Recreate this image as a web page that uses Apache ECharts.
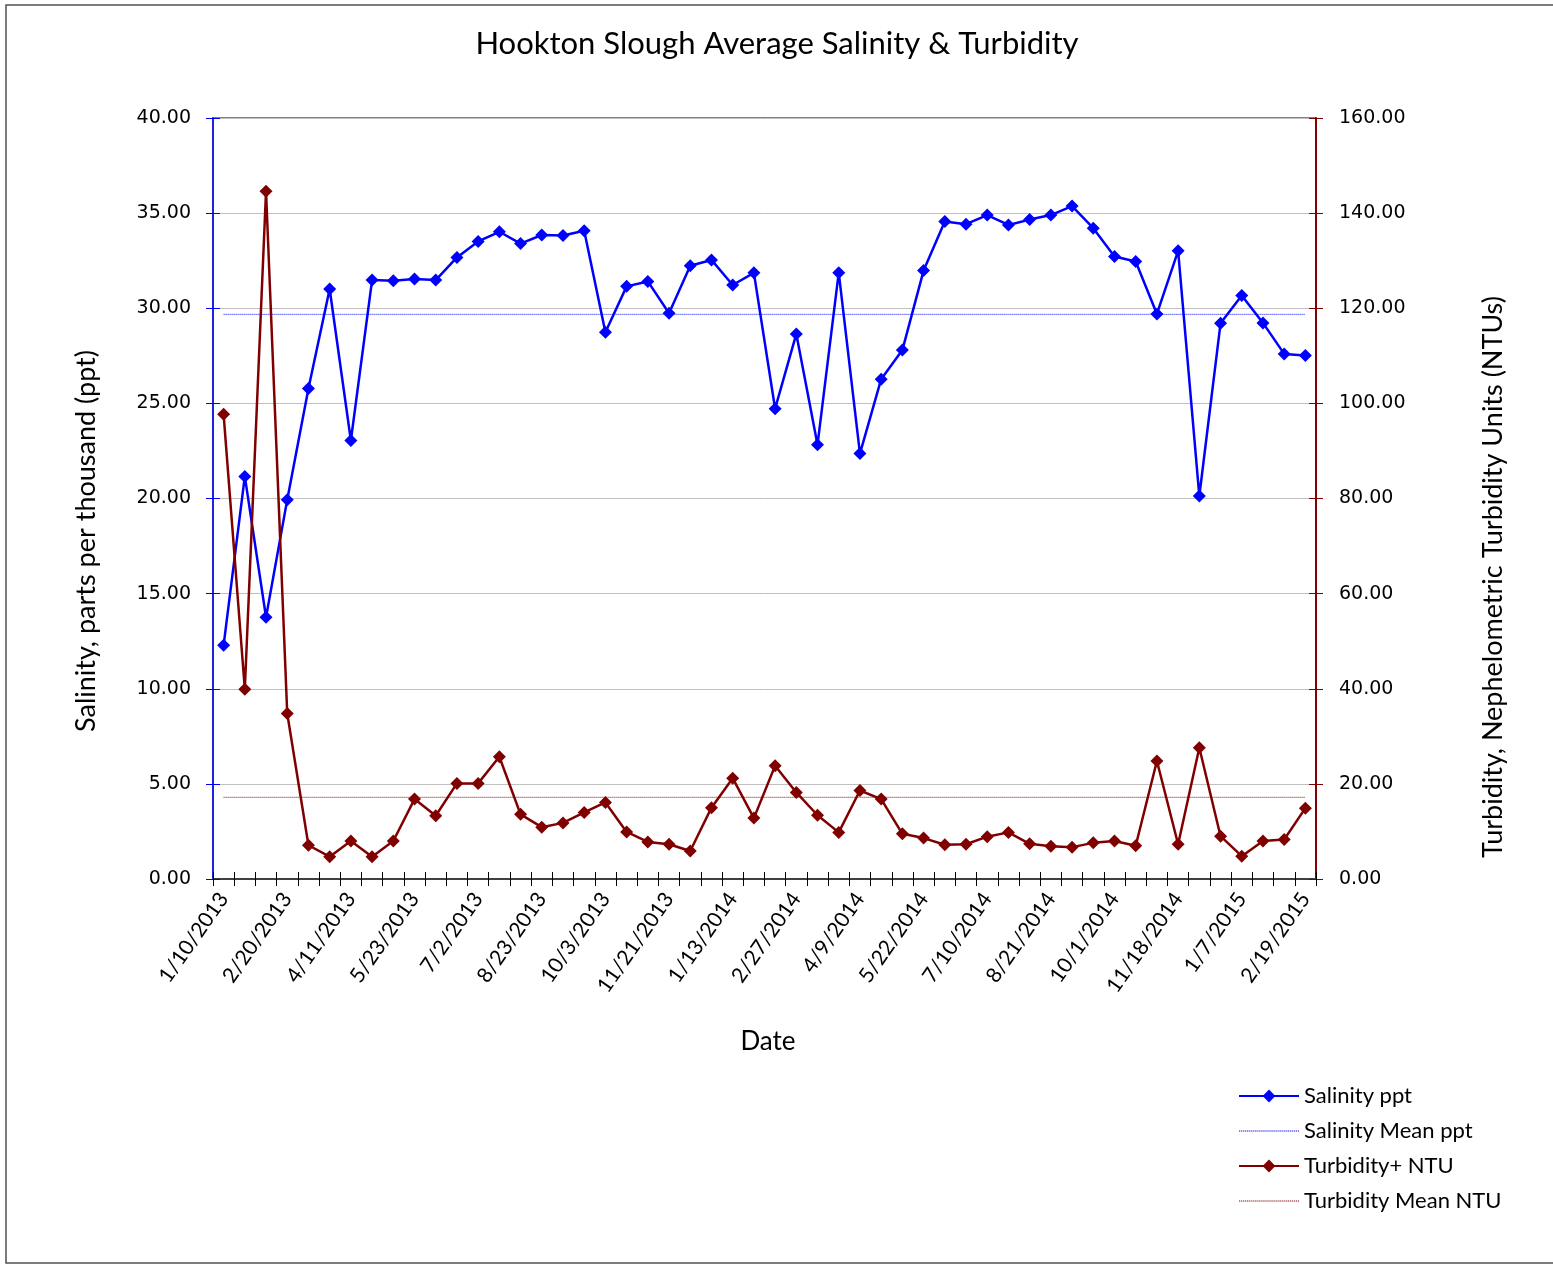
<!DOCTYPE html>
<html>
<head>
<meta charset="utf-8">
<script src="https://cdn.jsdelivr.net/npm/echarts@6/dist/echarts.min.js"></script>
<style>
html,body{margin:0;padding:0;background:#fff;}
#chart{width:1553px;height:1267px;}
</style>
</head>
<body>
<div id="chart"></div>
<script>
// ---- Data ----
const dates = [
  '1/10/2013','1/24/2013','2/7/2013','2/20/2013','3/7/2013','3/21/2013',
  '4/11/2013','4/25/2013','5/9/2013','5/23/2013','6/6/2013','6/20/2013',
  '7/2/2013','7/18/2013','8/8/2013','8/23/2013','9/5/2013','9/19/2013',
  '10/3/2013','10/24/2013','11/7/2013','11/21/2013','12/5/2013','12/19/2013',
  '1/13/2014','1/30/2014','2/13/2014','2/27/2014','3/13/2014','3/27/2014',
  '4/9/2014','4/24/2014','5/8/2014','5/22/2014','6/5/2014','6/19/2014',
  '7/10/2014','7/24/2014','8/7/2014','8/21/2014','9/4/2014','9/18/2014',
  '10/1/2014','10/16/2014','10/30/2014','11/18/2014','12/4/2014','12/18/2014',
  '1/7/2015','1/22/2015','2/5/2015','2/19/2015'
];
const salinity = [
  12.28, 21.16, 13.76, 19.94, 25.78, 31.01,
  23.05, 31.48, 31.44, 31.54, 31.48, 32.67,
  33.51, 34.02, 33.40, 33.85, 33.82, 34.07,
  28.74, 31.15, 31.41, 29.74, 32.23, 32.54,
  31.22, 31.86, 24.72, 28.65, 22.83, 31.87,
  22.36, 26.27, 27.80, 31.98, 34.56, 34.42,
  34.90, 34.38, 34.66, 34.90, 35.37, 34.21,
  32.72, 32.46, 29.70, 33.02, 20.13, 29.21,
  30.67, 29.23, 27.60, 27.52
];
const turbidity = [
  97.7, 39.9, 144.6, 34.8, 7.1, 4.7,
  8.0, 4.7, 8.0, 16.8, 13.3, 20.1,
  20.1, 25.7, 13.6, 10.9, 11.8, 14.0,
  16.1, 9.9, 7.8, 7.3, 5.9, 15.0,
  21.2, 12.8, 23.8, 18.2, 13.4, 9.8,
  18.6, 16.8, 9.5, 8.6, 7.2, 7.3,
  8.9, 9.8, 7.4, 6.9, 6.7, 7.6,
  8.0, 7.0, 24.8, 7.3, 27.6, 9.0,
  4.8, 8.0, 8.3, 14.9
];
const salinityMean = 29.68;
const turbidityMean = 17.18;
const salinityTicks = {min: 0, max: 40, interval: 5};
const turbidityTicks = {min: 0, max: 160, interval: 20};
const legendNames = ['Salinity ppt', 'Salinity Mean ppt', 'Turbidity+ NTU', 'Turbidity Mean NTU'];

// dotted thin line icon for the mean entries of the legend
let dotPath = 'path://';
for (let i = 0; i < 30; i++) dotPath += 'M' + (2 * i) + ',0h1.2v1h-1.2z';

const chart = echarts.init(document.getElementById('chart'), null, {renderer: 'canvas'});
const BODY = 'Lato, "Open Sans", sans-serif';
const NUM = '"DejaVu Sans", sans-serif';

const option = {
  backgroundColor: '#ffffff',
  animation: false,
  title: {
    text: 'Hookton Slough Average Salinity & Turbidity',
    left: 772, top: 23, textAlign: 'center',
    textStyle: {fontFamily: BODY, fontSize: 31, fontWeight: 'normal', color: '#000'}
  },
  grid: {
    left: 213, right: 237, top: 118, bottom: 388,
    show: true, borderColor: '#808080', borderWidth: 2, backgroundColor: 'transparent'
  },
  legend: {
    orient: 'vertical', left: 1233, top: 1080,
    itemWidth: 60, itemHeight: 16, itemGap: 13,
    textStyle: {fontFamily: BODY, fontSize: 22, color: '#000'},
    data: [
      {name: legendNames[0]},
      {name: legendNames[1], icon: dotPath, itemStyle: {color: '#0000ff'}},
      {name: legendNames[2]},
      {name: legendNames[3], icon: dotPath, itemStyle: {color: '#800000'}}
    ]
  },
  xAxis: [{
    type: 'category', data: dates, boundaryGap: true,
    axisLine: {lineStyle: {color: '#404040', width: 2}},
    axisTick: {show: true, interval: 0, length: 7, lineStyle: {color: '#000'}},
    axisLabel: {interval: 2, rotate: 55, margin: 16, fontFamily: BODY, fontSize: 21, color: '#000'},
    splitLine: {show: false}
  }, {
    type: 'category', data: dates, boundaryGap: true, position: 'bottom',
    axisLine: {show: false},
    axisTick: {show: true, inside: true, interval: 0, length: 7, lineStyle: {color: '#000'}},
    axisLabel: {show: false}, splitLine: {show: false}
  }],
  yAxis: [{
    type: 'value', position: 'left',
    min: salinityTicks.min, max: salinityTicks.max, interval: salinityTicks.interval,
    axisLine: {show: true, lineStyle: {color: '#0000ff', width: 1.5}},
    axisTick: {show: true, length: 7, lineStyle: {color: '#0000ff'}},
    axisLabel: {margin: 22, fontFamily: NUM, fontSize: 19, color: '#000', formatter: v => v.toFixed(2)},
    splitLine: {show: true, lineStyle: {color: '#c0c0c0', width: 1}}
  }, {
    type: 'value', position: 'right',
    min: turbidityTicks.min, max: turbidityTicks.max, interval: turbidityTicks.interval,
    axisLine: {show: true, lineStyle: {color: '#800000', width: 2}},
    axisTick: {show: true, length: 7, lineStyle: {color: '#800000'}},
    axisLabel: {margin: 23, fontFamily: NUM, fontSize: 19, color: '#000', formatter: v => v.toFixed(2)},
    splitLine: {show: false}
  }, {
    type: 'value', position: 'left',
    min: salinityTicks.min, max: salinityTicks.max, interval: salinityTicks.interval,
    axisLine: {show: false},
    axisTick: {show: true, inside: true, length: 7, lineStyle: {color: '#0000ff'}},
    axisLabel: {show: false}, splitLine: {show: false}
  }, {
    type: 'value', position: 'right',
    min: turbidityTicks.min, max: turbidityTicks.max, interval: turbidityTicks.interval,
    axisLine: {show: false},
    axisTick: {show: true, inside: true, length: 7, lineStyle: {color: '#800000'}},
    axisLabel: {show: false}, splitLine: {show: false}
  }],
  series: [{
    name: legendNames[0], type: 'line', xAxisIndex: 0, yAxisIndex: 0,
    data: salinity, z: 3,
    symbol: 'diamond', symbolSize: 13, showAllSymbol: true,
    itemStyle: {color: '#0000ff'},
    lineStyle: {color: '#0000ff', width: 2.5}
  }, {
    name: legendNames[1], type: 'line', xAxisIndex: 0, yAxisIndex: 0,
    data: dates.map(() => salinityMean), z: 2,
    symbol: 'none', showSymbol: false,
    itemStyle: {color: '#0000ff'},
    lineStyle: {color: '#0000ff', width: 1, type: [1, 1]}
  }, {
    name: legendNames[2], type: 'line', xAxisIndex: 0, yAxisIndex: 1,
    data: turbidity, z: 5,
    symbol: 'diamond', symbolSize: 13, showAllSymbol: true,
    itemStyle: {color: '#800000'},
    lineStyle: {color: '#800000', width: 2.5}
  }, {
    name: legendNames[3], type: 'line', xAxisIndex: 0, yAxisIndex: 1,
    data: dates.map(() => turbidityMean), z: 4,
    symbol: 'none', showSymbol: false,
    itemStyle: {color: '#800000'},
    lineStyle: {color: '#800000', width: 1, type: [1, 1]}
  }],
  graphic: [{
    type: 'rect', silent: true, z: -1,
    shape: {x: 6, y: 5, width: 1600, height: 1258},
    style: {fill: 'none', stroke: '#505050', lineWidth: 1.5}
  }, {
    type: 'text', x: 86, y: 541, rotation: Math.PI / 2,
    style: {text: 'Salinity, parts per thousand (ppt)', fontFamily: BODY, fontSize: 27, fill: '#000',
            textAlign: 'center', textVerticalAlign: 'middle'}
  }, {
    type: 'text', x: 1493, y: 577, rotation: Math.PI / 2,
    style: {text: 'Turbidity, Nephelometric Turbidity Units (NTUs)', fontFamily: BODY, fontSize: 27, fill: '#000',
            textAlign: 'center', textVerticalAlign: 'middle'}
  }, {
    type: 'text', x: 768, y: 1042,
    style: {text: 'Date', fontFamily: BODY, fontSize: 26, fill: '#000',
            textAlign: 'center', textVerticalAlign: 'middle'}
  }]
};
chart.setOption(option);
</script>
</body>
</html>
